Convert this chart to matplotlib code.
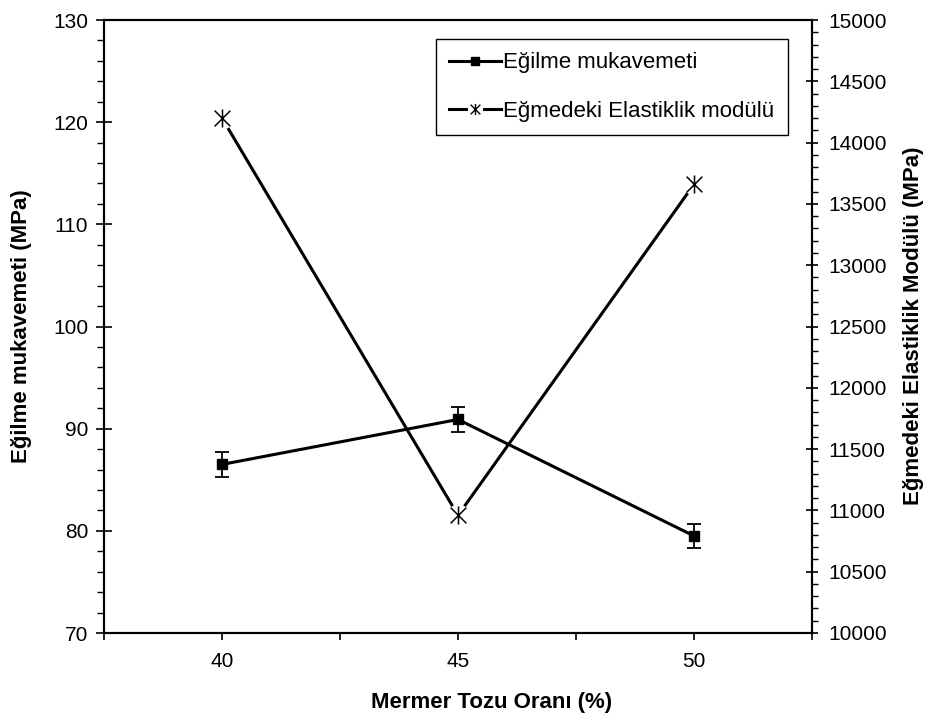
import numpy as np
import matplotlib
matplotlib.use("Agg")
import matplotlib.pyplot as plt
from matplotlib.path import Path
from matplotlib.lines import Line2D
from matplotlib.legend_handler import HandlerTuple
from matplotlib.ticker import MultipleLocator, FixedLocator

plt.rcParams['font.family'] = ['Liberation Sans', 'DejaVu Sans']
plt.rcParams['font.size'] = 15

# data
oran = [40, 45, 50]
egilme = [86.5, 90.9, 79.5]
egilme_hata = [1.2, 1.25, 1.15]
elastik = [14200, 10960, 13660]

lbl_egilme = 'Eğilme mukavemeti'
lbl_elastik = 'Eğmedeki Elastiklik modülü'

# asterisk marker: X with a vertical bar
star = Path([(-1, -1), (1, 1), (-1, 1), (1, -1), (0, -1.15), (0, 1.15)],
            [Path.MOVETO, Path.LINETO, Path.MOVETO, Path.LINETO,
             Path.MOVETO, Path.LINETO])

fig = plt.figure(figsize=(9.27, 7.15), dpi=100)
ax = fig.add_axes([104/927, 1-633/715, 708/927, 613/715])
ax2 = ax.twinx()

ax.errorbar(oran, egilme, yerr=egilme_hata, color='black', lw=2.2,
            marker='s', ms=7, capsize=5, elinewidth=1.3, capthick=1.3,
            zorder=3)

ax2.plot(oran, elastik, color='black', lw=2.2, zorder=2)
ax2.plot(oran, elastik, ls='none', marker='o', ms=16, mfc='white',
         mec='none', zorder=3)
ax2.plot(oran, elastik, ls='none', marker=star, ms=13, mec='black',
         mew=1.1, zorder=4)

ax.set_xlim(37.5, 52.5)
ax.set_ylim(70, 130)
ax2.set_ylim(10000, 15000)

ax.xaxis.set_major_locator(FixedLocator([40, 45, 50]))
ax.xaxis.set_minor_locator(FixedLocator([37.5, 42.5, 47.5, 52.5]))
ax.tick_params(axis='x', which='both', direction='out', length=5,
               width=1.2, pad=9)

ax.yaxis.set_major_locator(MultipleLocator(10))
ax.yaxis.set_minor_locator(MultipleLocator(2))
ax.tick_params(axis='y', which='major', direction='inout', length=11,
               width=1.2, pad=6)
ax.tick_params(axis='y', which='minor', direction='out', length=5, width=1.0)

ax2.yaxis.set_major_locator(MultipleLocator(500))
ax2.yaxis.set_minor_locator(MultipleLocator(100))
ax2.tick_params(axis='y', which='major', direction='inout', length=8,
                width=1.2, pad=8)
ax2.tick_params(axis='y', which='minor', direction='out', length=4, width=1.0)

for a in (ax, ax2):
    for s in a.spines.values():
        s.set_linewidth(1.5)

ax.set_xlabel('Mermer Tozu Oranı (%)', fontweight='bold', fontsize=16,
              va='center')
ax.xaxis.set_label_coords(0.547, -0.1126)
ax.set_ylabel('Eğilme mukavemeti (MPa)', fontweight='bold', fontsize=16,
              va='center')
ax.yaxis.set_label_coords(-0.117, 0.5)
ax2.set_ylabel('Eğmedeki Elastiklik Modülü (MPa)', fontweight='bold',
               fontsize=16, va='center')
ax2.yaxis.set_label_coords(1.143, 0.502)

# legend proxies
h1 = Line2D([], [], color='black', lw=2.2, marker='s', ms=6)
h2_line = Line2D([], [], color='black', lw=2.2)
h2_gap = Line2D([], [], ls='none', marker='o', ms=11, mfc='white', mec='none')
h2_star = Line2D([], [], ls='none', marker=star, ms=8, mec='black', mew=1.0)
leg = ax2.legend([h1, (h2_line, h2_gap, h2_star)], [lbl_egilme, lbl_elastik],
                 handler_map={tuple: HandlerTuple(ndivide=1)},
                 loc='upper right', bbox_to_anchor=(0.966, 0.969),
                 borderaxespad=0, fancybox=False, framealpha=1,
                 edgecolor='black', fontsize=16, handlelength=2.35,
                 handletextpad=0.1, labelspacing=1.25, borderpad=0.6)
leg.get_frame().set_linewidth(1.0)

fig.savefig('out.png', dpi=100)
